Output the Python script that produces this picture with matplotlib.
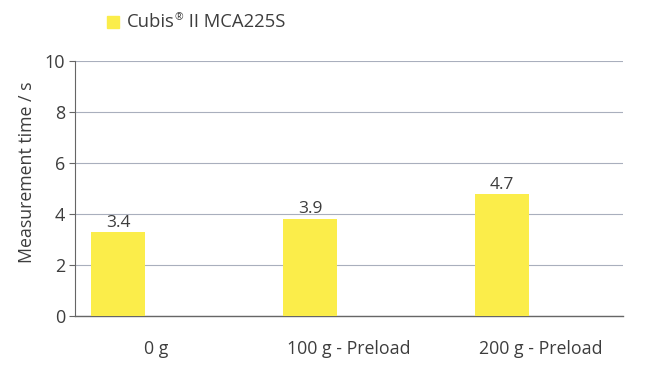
import matplotlib
matplotlib.use("Agg")
import matplotlib.pyplot as plt
from matplotlib.patches import Rectangle

categories = ["0 g", "100 g - Preload", "200 g - Preload"]
bar_heights = [3.28, 3.82, 4.78]
value_labels = ["3.4", "3.9", "4.7"]
series_parts = ["Cubis", "\u00ae", " II MCA225S"]
yticks = [0, 2, 4, 6, 8, 10]

plt.rcParams['font.family'] = ['Open Sans', 'DejaVu Sans']
text_color = "#3d3d3d"
grid_color = "#a9afbd"
bar_color = "#fbed4a"

fig = plt.figure(figsize=(6.5, 3.78), dpi=100)
ax = fig.add_axes([75/650, 1-316/378, 548/650, 255/378])

x = list(range(len(categories)))
offset = -0.2
width = 0.285
bx = [xi + offset for xi in x]
ax.bar(bx, bar_heights, width=width, color=bar_color, zorder=3)
for xi, h, lab in zip(bx, bar_heights, value_labels):
    ax.text(xi, h + 0.06, lab, ha="center", va="bottom", fontsize=12.5, color=text_color, zorder=4)

ax.set_xlim(-0.424, 2.43)
ax.set_ylim(0, 10)
ax.set_yticks(yticks)
ax.set_yticklabels([str(t) for t in yticks], fontsize=13, color=text_color)
ax.set_xticks(x)
ax.set_xticklabels(categories, fontsize=12.8, color=text_color)
ax.tick_params(axis="x", length=0, pad=17)
ax.tick_params(axis="y", length=4, width=0.8, color="#666666", pad=3)
ax.yaxis.grid(True, color=grid_color, linewidth=0.8, zorder=0)
for s in ["top", "right"]:
    ax.spines[s].set_visible(False)
ax.spines["left"].set_color("#666666")
ax.spines["left"].set_linewidth(0.8)
ax.spines["bottom"].set_color("#666666")
ax.spines["bottom"].set_linewidth(1.0)
ax.set_ylabel("Measurement time / s", fontsize=12.8, color=text_color)
ax.yaxis.set_label_coords(-0.071, 0.565)

# legend
fig.patches.append(Rectangle((107/650, 1-28/378), 12/650, 12/378, transform=fig.transFigure,
                             color=bar_color, figure=fig))
renderer = fig.canvas.get_renderer()
xpos = 127
sizes = [13.3, 7.5, 13.3]
dy = [0, 4.5, 0]
for part, fs, d in zip(series_parts, sizes, dy):
    t = fig.text(xpos/650, (1-22/378) + d/378, part, fontsize=fs, color=text_color, va="center", ha="left")
    bb = t.get_window_extent(renderer=renderer)
    xpos += bb.width

fig.savefig("out.png", dpi=100)
